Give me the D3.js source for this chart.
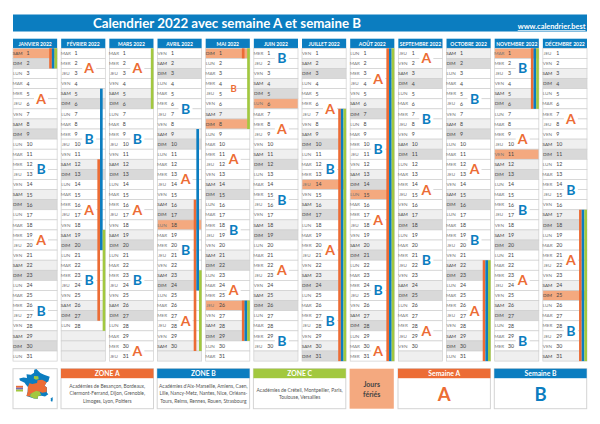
<!DOCTYPE html>
<html lang="fr">
<head>
<meta charset="utf-8">
<title>Calendrier 2022 avec semaine A et semaine B</title>
<script src="https://cdn.jsdelivr.net/npm/d3@7"></script>
<style>
  html, body { margin: 0; padding: 0; background: #fff; }
  svg { display: block; font-family: Lato, "Open Sans", sans-serif; }
</style>
</head>
<body>
<svg id="chart" width="600" height="424"></svg>
<script>
// --- Data ---
const monthNames = ['JANVIER 2022','FÉVRIER 2022','MARS 2022','AVRIL 2022','MAI 2022','JUIN 2022',
  'JUILLET 2022','AOÛT 2022','SEPTEMBRE 2022','OCTOBRE 2022','NOVEMBRE 2022','DÉCEMBRE 2022'];
const dayNames = ['DIM','LUN','MAR','MER','JEU','VEN','SAM'];

// public holidays, [month index, day]
const holidays = [[0,1],[3,18],[4,1],[4,8],[4,26],[5,6],[6,14],[7,15],[10,1],[10,11],[11,25]];

// school holidays per zone: [month index, first day, last day]
const zoneAHolidays = [[0,1,2],[1,12,27],[3,16,30],[4,1,1],[4,26,29],[6,7,31],[7,1,31],[9,22,31],[10,1,6],[11,17,31]];
const zoneBHolidays = [[0,1,2],[1,5,20],[3,9,24],[4,26,29],[6,7,31],[7,1,31],[9,22,31],[10,1,6],[11,17,31]];
const zoneCHolidays = [[0,1,2],[1,19,28],[2,1,6],[3,23,30],[4,1,8],[4,26,29],[6,7,31],[7,1,31],[9,22,31],[10,1,6],[11,17,31]];

// week letters: [month index, day the letter sits under, letter]
const weekLetters = [
  [0,5,'A'],[0,12,'B'],[0,19,'A'],[0,26,'B'],
  [1,2,'A'],[1,9,'B'],[1,16,'A'],[1,23,'B'],
  [2,2,'A'],[2,9,'B'],[2,16,'A'],[2,23,'B'],[2,30,'A'],
  [3,6,'B'],[3,13,'A'],[3,20,'B'],[3,27,'A'],
  [4,11,'A'],[4,18,'B'],[4,24,'A'],
  [5,1,'B'],[5,8,'A'],[5,15,'B'],[5,22,'A'],[5,29,'B'],
  [6,6,'A'],[6,12,'B'],[6,20,'A'],[6,27,'B'],
  [7,3,'A'],[7,10,'B'],[7,17,'A'],[7,24,'B'],[7,30,'A'],
  [8,1,'A'],[8,7,'B'],[8,14,'A'],[8,21,'B'],[8,28,'A'],
  [9,5,'B'],[9,12,'A'],[9,19,'B'],[9,26,'A'],
  [10,2,'B'],[10,9,'A'],[10,16,'B'],[10,23,'A'],[10,29,'B'],
  [11,7,'A'],[11,14,'B'],[11,21,'A'],[11,28,'B']
];

const zoneATexts = ['Académies de Besançon, Bordeaux,','Clermont-Ferrand, Dijon, Grenoble,','Limoges, Lyon, Poitiers'];
const zoneBTexts = ["Académies d'Aix-Marseille, Amiens, Caen,",'Lille, Nancy-Metz, Nantes, Nice, Orléans-','Tours, Reims, Rennes, Rouen, Strasbourg'];
const zoneCTexts = ['Académies de Créteil, Montpellier, Paris,','Toulouse, Versailles'];

// rough outline of the regions in the little map, lon/lat
const franceOutline = [[2.5,51.1],[4.2,50],[5.8,49.5],[8.2,49],[7.6,47.6],[6.9,47.4],[6,46.4],[7,45.9],[7,44.3],[7.6,43.8],[6.2,43.1],[4.7,43.4],[3.2,43.2],[3.1,42.4],[1.5,42.5],[-1.7,43.3],[-1.2,44.6],[-1.1,46],[-2.1,46.8],[-2.5,47.3],[-4.5,47.9],[-4.8,48.5],[-3,48.8],[-1.5,48.6],[-1.7,49.7],[0.2,49.5],[1.5,50.1],[1.6,50.9]];
const corsica = [[9.4,43],[9.5,42],[9.2,41.4],[8.6,41.9],[8.8,42.6]];
const orangeRegion = [[-1.1,46],[-0.5,47.1],[0.8,46.9],[2.8,47.2],[3,48],[5,48.1],[6,47.8],[6.9,47.4],[6,46.4],[7,45.9],[6.9,44.5],[5,44.3],[4,44.6],[2.5,44.5],[1,44.2],[0,43.9],[-0.2,43.1],[-1.7,43.3],[-1.2,44.6]];
const greenSouth = [[-0.2,43.1],[0,43.9],[1,44.4],[2.5,44.9],[4,44.6],[4.5,43.5],[3.2,43.2],[3.1,42.4],[1.5,42.5]];
const greenParis = [[1.5,49.2],[3.3,49.1],[3.5,48.3],[2.3,48.1],[1.4,48.5]];

// --- Colours ---
const blue = '#0b7dc0', orange = '#ec6c35', green = '#a2c83f', ferie = '#f4a97f';

const svg = d3.select('#chart');

// --- Scales ---
const x = d3.scaleBand().domain(d3.range(12)).range([13, 587]).paddingInner(0.0835);
const y = d3.scaleLinear().domain([1, 32]).range([48.3, 361.1]);
const rowH = y(2) - y(1);
const colW = x.bandwidth();

// --- Title bar ---
svg.append('rect').attr('x', 13).attr('y', 14.5).attr('width', 574).attr('height', 17).attr('fill', blue);
svg.append('text').attr('x', 227).attr('y', 27.6).attr('text-anchor', 'middle')
  .attr('fill', '#fff').attr('font-weight', 700).attr('font-size', 13.3)
  .text('Calendrier 2022 avec semaine A et semaine B');
svg.append('text').attr('x', 585.5).attr('y', 29.2).attr('text-anchor', 'end')
  .attr('fill', '#fff').attr('font-weight', 700).attr('font-size', 7.4).attr('text-decoration', 'underline')
  .text('www.calendrier.best');

// --- One column per month ---
const isFerie = (m, d) => holidays.some(h => h[0] === m && h[1] === d);

const cols = svg.selectAll('g.month').data(monthNames).join('g')
  .attr('class', 'month')
  .attr('transform', (d, i) => `translate(${x(i)},0)`);

cols.append('rect').attr('y', 38.7).attr('width', colW).attr('height', 9.6).attr('fill', blue);
cols.append('text').attr('x', colW / 2).attr('y', 45.5).attr('text-anchor', 'middle')
  .attr('fill', '#fff').attr('font-weight', 700).attr('font-size', 5).text(d => d);

cols.each(function(name, m) {
  const g = d3.select(this);
  const days = d3.range(1, 32).map(d => {
    const date = new Date(2022, m, d);
    const valid = date.getMonth() === m;
    return {d, valid, wd: date.getDay()};
  });
  const rows = g.selectAll('g.row').data(days).join('g')
    .attr('class', 'row')
    .attr('transform', r => `translate(0,${y(r.d)})`);
  rows.append('rect')
    .attr('width', colW).attr('height', rowH)
    .attr('stroke', '#cfcfcf').attr('stroke-width', 0.7)
    .attr('fill', r => {
      if (!r.valid) return '#efefef';
      if (isFerie(m, r.d)) return ferie;
      if (r.wd === 0) return '#d9d9d9';
      if (r.wd === 6) return '#efefef';
      return '#fff';
    });
  const valid = rows.filter(r => r.valid);
  valid.append('text').attr('x', 4.6).attr('y', rowH / 2 + 1.7).attr('text-anchor', 'middle')
    .attr('font-size', 4.6).attr('fill', r => (r.wd === 0 || r.wd === 6) ? '#444' : '#777')
    .text(r => dayNames[r.wd]);
  valid.append('text').attr('x', 13.4).attr('y', rowH / 2 + 1.9)
    .attr('font-size', 5.2).attr('fill', '#444')
    .text(r => r.d);
});

// --- Week letters ---
const letters = svg.selectAll('g.letter').data(weekLetters).join('g')
  .attr('class', 'letter')
  .attr('transform', l => `translate(${x(l[0]) + 28},${y(l[1] + 1)})`);
letters.append('rect').attr('x', -7).attr('y', -8).attr('width', 14).attr('height', 16).attr('fill', '#fff');
letters.append('text').attr('text-anchor', 'middle').attr('y', 5)
  .attr('font-size', 14).attr('font-weight', 700)
  .attr('fill', l => l[2] === 'A' ? orange : blue)
  .text(l => l[2]);

// the small orange B of early May
svg.append('text').attr('x', x(4) + 28).attr('y', y(5) + 3.5).attr('text-anchor', 'middle')
  .attr('font-size', 9.5).attr('font-weight', 700).attr('fill', orange).text('B');

// --- School holiday stripes ---
const stripeW = 2.65;
[[zoneAHolidays, orange, 3], [zoneBHolidays, blue, 2], [zoneCHolidays, green, 1]].forEach(([rows, colour, slot]) => {
  svg.append('g').selectAll('rect').data(rows).join('rect')
    .attr('x', r => x(r[0]) + colW - slot * stripeW)
    .attr('y', r => y(r[1]))
    .attr('width', stripeW)
    .attr('height', r => y(r[2] + 1) - y(r[1]))
    .attr('fill', colour);
});

// --- Bottom cards ---
function card(x0, x1, title, colour, lines, firstY) {
  svg.append('rect').attr('x', x0).attr('y', 368.7).attr('width', x1 - x0).attr('height', 40)
    .attr('fill', '#fff').attr('stroke', '#d4d4d4').attr('stroke-width', 1);
  svg.append('rect').attr('x', x0).attr('y', 368.7).attr('width', x1 - x0).attr('height', 9.5).attr('fill', colour);
  svg.append('text').attr('x', (x0 + x1) / 2).attr('y', 376.3).attr('text-anchor', 'middle')
    .attr('fill', '#fff').attr('font-weight', 700).attr('font-size', 6.8).text(title);
  svg.append('g').selectAll('text').data(lines).join('text')
    .attr('x', (x0 + x1) / 2).attr('y', (l, i) => firstY + i * 7.4).attr('text-anchor', 'middle')
    .attr('font-size', 4.9).attr('fill', '#555').text(l => l);
}
card(61, 153.5, 'ZONE A', orange, zoneATexts, 387.8);
card(157.2, 249.6, 'ZONE B', blue, zoneBTexts, 387.8);
card(253.4, 345.8, 'ZONE C', green, zoneCTexts, 391.8);
card(398, 490.4, 'Semaine A', orange, [], 0);
card(494.3, 586.7, 'Semaine B', blue, [], 0);

svg.append('text').attr('x', 444.2).attr('y', 401).attr('text-anchor', 'middle')
  .attr('font-size', 18.5).attr('font-weight', 700).attr('fill', orange).text('A');
svg.append('text').attr('x', 540.7).attr('y', 401).attr('text-anchor', 'middle')
  .attr('font-size', 18.5).attr('font-weight', 700).attr('fill', blue).text('B');

// Jours fériés
svg.append('rect').attr('x', 349.6).attr('y', 368.7).attr('width', 44.2).attr('height', 40).attr('fill', ferie);
svg.append('g').selectAll('text').data(['Jours', 'fériés']).join('text')
  .attr('x', 371.7).attr('y', (l, i) => 386.5 + i * 10).attr('text-anchor', 'middle')
  .attr('font-size', 7).attr('font-weight', 700).attr('fill', '#444').text(l => l);

// --- Map card ---
svg.append('rect').attr('x', 13).attr('y', 368.7).attr('width', 44.2).attr('height', 40)
  .attr('fill', '#fff').attr('stroke', '#d4d4d4').attr('stroke-width', 1);
const projection = d3.geoMercator().fitExtent([[18, 369], [54, 402]],
  {type: 'MultiPoint', coordinates: franceOutline.concat(corsica)});
const outline = d3.line().curve(d3.curveLinearClosed);
[[franceOutline, blue], [corsica, blue], [orangeRegion, orange], [greenSouth, green], [greenParis, green]].forEach(([pts, colour]) => {
  svg.append('path').attr('d', outline(pts.map(projection))).attr('fill', colour);
});
// small swatches left of the map
[orange, '#7b6bb0', green].forEach((c, i) => {
  svg.append('rect').attr('x', 16).attr('y', 385.8 + i * 1.9).attr('width', 7).attr('height', 1.9).attr('fill', c);
});
</script>
</body>
</html>
